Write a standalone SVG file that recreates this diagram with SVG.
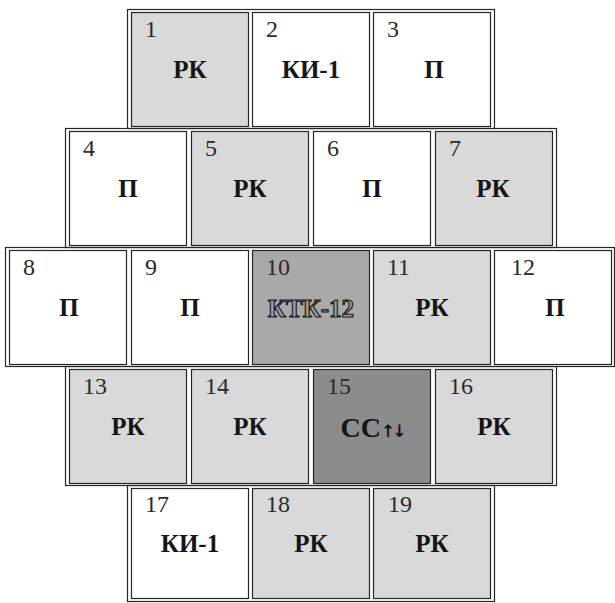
<svg xmlns="http://www.w3.org/2000/svg" width="615" height="603" viewBox="0 0 615 603">
<style>
  .frame { fill: none; stroke: #262626; stroke-width: 1.2; }
  .cell { stroke: #262626; stroke-width: 1.2; }
  .w { fill: #ffffff; }
  .g { fill: #d9d9d9; }
  .m { fill: #a9a9a9; }
  .d { fill: #8c8c8c; }
  .num { font-family: "Liberation Serif", "Times New Roman", serif; font-size: 24px; fill: #2a2a2a; }
  .lbl { font-family: "Liberation Serif", "Times New Roman", serif; font-size: 25px; font-weight: bold; fill: #151515; text-anchor: middle; }
  .out { fill: #9c9c9c; stroke: #161616; stroke-width: 1.1; }
</style>
<rect x="0" y="0" width="615" height="603" fill="#ffffff"/>
<g id="frames">
  <rect class="frame" x="127.5" y="9.5" width="367" height="119"/>
  <rect class="frame" x="65.5" y="128.5" width="491" height="119"/>
  <rect class="frame" x="5.5" y="247.5" width="609" height="119"/>
  <rect class="frame" x="65.5" y="366.5" width="491" height="119"/>
  <rect class="frame" x="127.5" y="485.5" width="367" height="116"/>
</g>
<g id="n1"><rect class="cell g" x="131.5" y="12.5" width="117" height="114"/><text class="num" x="145" y="37">1</text><text class="lbl" x="190" y="78">РК</text></g>
<g id="n2"><rect class="cell w" x="252.5" y="12.5" width="117" height="114"/><text class="num" x="266" y="37">2</text><text class="lbl" x="311" y="78">КИ-1</text></g>
<g id="n3"><rect class="cell w" x="373.5" y="12.5" width="117" height="114"/><text class="num" x="387" y="37">3</text><text class="lbl" x="434" y="78">П</text></g>

<g id="n4"><rect class="cell w" x="69.5" y="131.5" width="117" height="114"/><text class="num" x="83" y="156">4</text><text class="lbl" x="128" y="197">П</text></g>
<g id="n5"><rect class="cell g" x="191.5" y="131.5" width="117" height="114"/><text class="num" x="205" y="156">5</text><text class="lbl" x="250" y="197">РК</text></g>
<g id="n6"><rect class="cell w" x="313.5" y="131.5" width="117" height="114"/><text class="num" x="327" y="156">6</text><text class="lbl" x="372" y="197">П</text></g>
<g id="n7"><rect class="cell g" x="435.5" y="131.5" width="117" height="114"/><text class="num" x="449" y="156">7</text><text class="lbl" x="493" y="197">РК</text></g>

<g id="n8"><rect class="cell w" x="9.5" y="250.5" width="117" height="114"/><text class="num" x="23" y="275">8</text><text class="lbl" x="69" y="316">П</text></g>
<g id="n9"><rect class="cell w" x="131.5" y="250.5" width="117" height="114"/><text class="num" x="145" y="275">9</text><text class="lbl" x="190" y="316">П</text></g>
<g id="n10"><rect class="cell m" x="252.5" y="250.5" width="117" height="114"/><text class="num" x="266" y="275">10</text><text class="lbl out" x="311" y="317">КТК-12</text></g>
<g id="n11"><rect class="cell g" x="373.5" y="250.5" width="117" height="114"/><text class="num" x="387" y="275">11</text><text class="lbl" x="432" y="316">РК</text></g>
<g id="n12"><rect class="cell w" x="494.5" y="250.5" width="117" height="114"/><text class="num" x="511" y="275">12</text><text class="lbl" x="555" y="316">П</text></g>

<g id="n13"><rect class="cell g" x="69.5" y="369.5" width="117" height="114"/><text class="num" x="83" y="394">13</text><text class="lbl" x="128" y="435">РК</text></g>
<g id="n14"><rect class="cell g" x="191.5" y="369.5" width="117" height="114"/><text class="num" x="205" y="394">14</text><text class="lbl" x="250" y="435">РК</text></g>
<g id="n15"><rect class="cell d" x="313.5" y="369.5" width="117" height="114"/><text class="num" x="327" y="394">15</text><text class="lbl" x="372" y="437"><tspan font-size="28">СС</tspan><tspan font-family="DejaVu Sans, sans-serif" font-size="17" letter-spacing="-3">↑↓</tspan></text></g>
<g id="n16"><rect class="cell g" x="435.5" y="369.5" width="117" height="114"/><text class="num" x="449" y="394">16</text><text class="lbl" x="494" y="435">РК</text></g>

<g id="n17"><rect class="cell w" x="131.5" y="488.5" width="117" height="110"/><text class="num" x="145" y="512">17</text><text class="lbl" x="190" y="552">КИ-1</text></g>
<g id="n18"><rect class="cell g" x="252.5" y="488.5" width="117" height="110"/><text class="num" x="266" y="512">18</text><text class="lbl" x="311" y="552">РК</text></g>
<g id="n19"><rect class="cell g" x="373.5" y="488.5" width="117" height="110"/><text class="num" x="388" y="512">19</text><text class="lbl" x="432" y="552">РК</text></g>
</svg>
